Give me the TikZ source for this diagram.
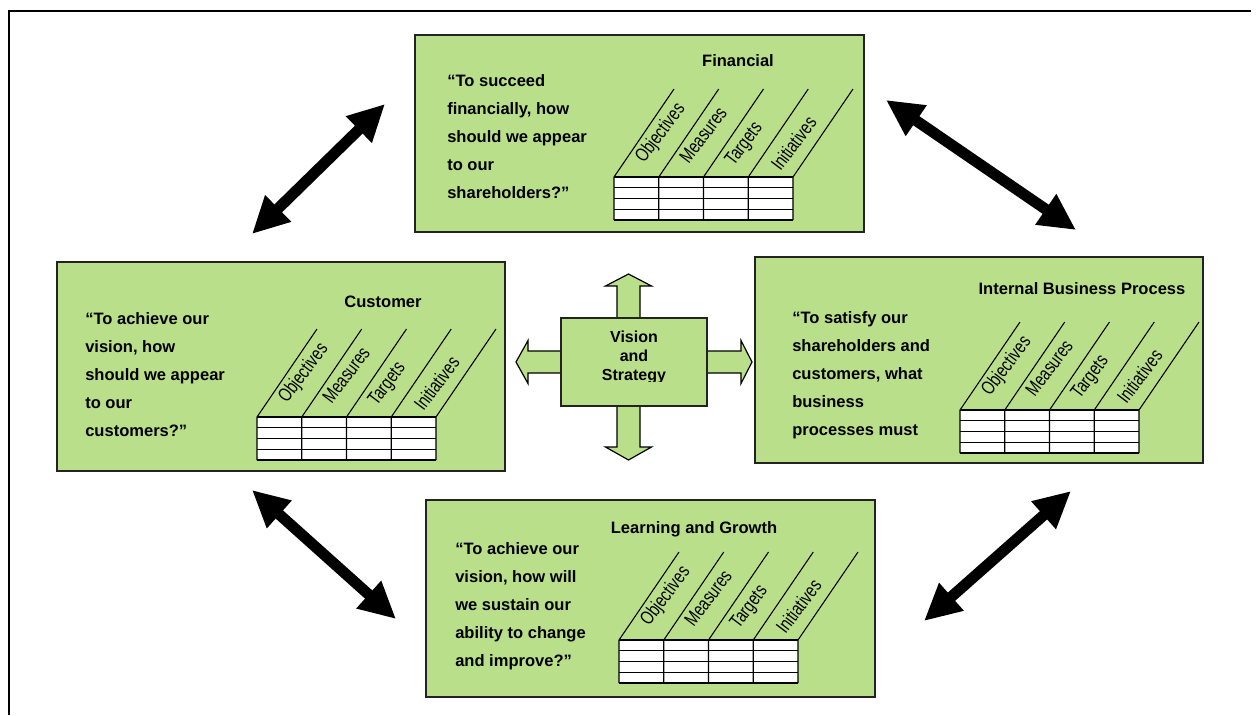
\documentclass[tikz,border=0pt]{standalone}
\usepackage{fontspec}
\setmainfont{Liberation Sans}
\usetikzlibrary{arrows.meta}

\definecolor{bscgreen}{RGB}{186,223,139}
\definecolor{bscedge}{RGB}{35,35,35}

% narrow headings for the table columns
\newcommand{\narrowtext}[1]{\scalebox{0.76}[1]{#1}}

\tikzset{
  perspbox/.style={draw=bscedge, line width=0.9pt, fill=bscgreen, inner sep=0pt},
  quote/.style={anchor=north west, inner sep=0pt, align=left,
    font=\fontsize{12.4}{21}\selectfont\bfseries},
  boxtitle/.style={anchor=base, inner sep=0pt, font=\fontsize{12.4}{14}\selectfont\bfseries},
  collabel/.style={rotate=53, anchor=west, inner sep=0pt, font=\fontsize{14.5}{16}\selectfont},
  grid/.style={draw=black, line width=0.8pt},
  linkarrow/.style={line width=8.25pt,
    {Triangle[length=27.5pt,width=26pt]}-{Triangle[length=27.5pt,width=26pt]}},
  flowarrow/.style={draw=black, line width=0.9pt, fill=bscgreen, line join=miter},
  frame/.style={line width=1.6pt},
  % measures table with slanted column headings
  scoretable/.pic={
    \fill[white] (0,0) rectangle (179,43);
    \foreach \r in {0,10.75,21.5,32.25,43} \draw[grid] (0,\r) -- (179,\r);
    \foreach \c in {0,44.75,89.5,134.25,179} \draw[grid] (\c,43) -- (\c,0) -- ++(60,-88);
    \node[collabel] (-obj) at (26,-16) {\narrowtext{Objectives}};
    \node[collabel] (-mea) at (69.5,-16) {\narrowtext{Measures}};
    \node[collabel] (-tar) at (116,-13) {\narrowtext{Targets}};
    \node[collabel] (-ini) at (161,-9) {\narrowtext{Initiatives}};
  }
}

\begin{document}
\begin{tikzpicture}[x=0.75pt,y=-0.75pt]
\useasboundingbox (0,0) rectangle (1258,715);
\fill[white] (0,0) rectangle (1258,715);
\draw[frame] (9,715) -- (9,11) -- (1251,11);

% four perspective boxes
\node[perspbox, minimum width=449*0.75pt, minimum height=197*0.75pt] (fin) at (639.5,133.5) {};
\node[perspbox, minimum width=448*0.75pt, minimum height=209*0.75pt] (cus) at (281,366.5) {};
\node[perspbox, minimum width=448*0.75pt, minimum height=206*0.75pt] (ibp) at (979,360) {};
\node[perspbox, minimum width=449*0.75pt, minimum height=197*0.75pt] (lng) at (650.5,598.5) {};

% titles
\node[boxtitle] (fintitle) at (738,66) {Financial};
\node[boxtitle] (custitle) at (383,307) {Customer};
\node[boxtitle] (ibptitle) at (1082,294) {Internal Business Process};
\node[boxtitle] (lngtitle) at (694,533) {Learning and Growth};

% guiding questions
\node[quote] (finq) at (447,74) {“To succeed\\financially, how\\should we appear\\to our\\shareholders?”};
\node[quote] (cusq) at (85,312) {“To achieve our\\vision, how\\should we appear\\to our\\customers?”};
\node[quote] (ibpq) at (792,311) {“To satisfy our\\shareholders and\\customers, what\\business\\processes must};
\node[quote] (lngq) at (455,542) {“To achieve our\\vision, how will\\we sustain our\\ability to change\\and improve?”};

% measures tables
\pic (fint) at (614,177) {scoretable};
\pic (cust) at (257,417) {scoretable};
\pic (ibpt) at (960,410) {scoretable};
\pic (lngt) at (619,640) {scoretable};

% block arrows around the centre
\draw[flowarrow] (617,318) -- (617,286) -- (605.5,286) -- (628.5,274) -- (651.5,286) -- (640,286) -- (640,318) -- cycle;
\draw[flowarrow] (617,406) -- (617,447) -- (605.5,447) -- (628.5,460) -- (651.5,447) -- (640,447) -- (640,406) -- cycle;
\draw[flowarrow] (561,351) -- (528,351) -- (528,340.5) -- (516,362) -- (528,383.5) -- (528,373) -- (561,373) -- cycle;
\draw[flowarrow] (707,351) -- (741,351) -- (741,340.5) -- (752,362) -- (741,383.5) -- (741,373) -- (707,373) -- cycle;

% centre box
\node[perspbox, minimum width=146*0.75pt, minimum height=88*0.75pt] (vis) at (634,362) {};
\begin{scope}
  \clip (561,318) rectangle (707,381);
  \node[anchor=north, inner sep=0pt, align=center,
        font=\fontsize{12}{14.25}\selectfont\bfseries] (vistext) at (634,331) {Vision\\and\\Strategy};
\end{scope}

% linking double arrows
\coordinate (a1s) at (252,234); \coordinate (a1e) at (385,104);
\coordinate (a2s) at (886,100); \coordinate (a2e) at (1076,230);
\coordinate (a3s) at (252,490); \coordinate (a3e) at (396,619);
\coordinate (a4s) at (1071,491); \coordinate (a4e) at (924,621);
\draw[linkarrow] (a1s) -- (a1e);
\draw[linkarrow] (a2s) -- (a2e);
\draw[linkarrow] (a3s) -- (a3e);
\draw[linkarrow] (a4s) -- (a4e);
\end{tikzpicture}
\end{document}
